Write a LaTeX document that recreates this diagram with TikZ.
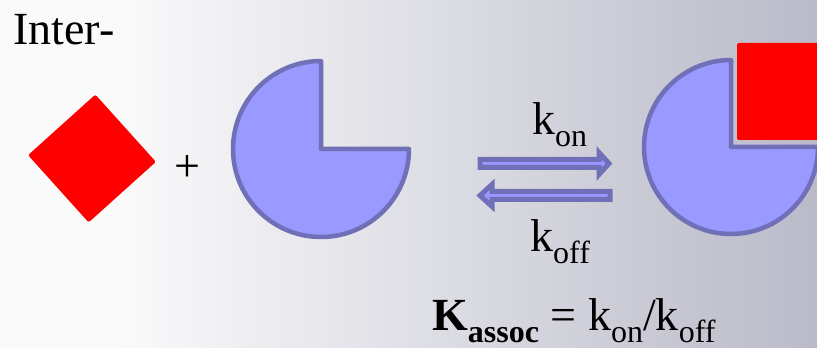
\documentclass[tikz,border=0pt]{standalone}
\usepackage{fontspec}
\setmainfont{Liberation Serif}
\usetikzlibrary{calc}

\definecolor{bgLeft}{RGB}{250,250,251}
\definecolor{bgMid}{RGB}{237,237,242}
\definecolor{bgRight}{RGB}{186,186,201}
\definecolor{pocketFill}{RGB}{153,153,255}
\definecolor{pocketLine}{RGB}{112,112,184}

\newcommand{\subtxt}[1]{\raisebox{-0.26em}{\fontsize{32}{32}\selectfont #1}}

\begin{document}
\begin{tikzpicture}[
		x=1pt, y=1pt,
		font=\fontsize{46}{50}\selectfont,
		% Styles
		pocketShape/.style={draw=pocketLine, fill=pocketFill, line width=4.5pt, line join=round},
		ligandShape/.style={fill=red, rounded corners=2pt},
		rateArrow/.style={draw=pocketLine, fill=pocketFill, line width=5pt, line join=miter},
		rateLabel/.style={anchor=base west, inner sep=0pt}
		]
		
		% =========================================================
		% 1. BACKGROUND
		% =========================================================
		\useasboundingbox (0,0) rectangle (817,348);
		\clip (0,0) rectangle (817,348);
		\fill[bgLeft] (0,0) rectangle (817,348);
		\shade[left color=bgLeft, middle color=bgMid, right color=bgRight] (120,0) rectangle (817,348);
		
		\node[rateLabel] (inter) at (13,303) {Inter-};
		
		% =========================================================
		% 2. LIGAND + ENZYME
		% =========================================================
		\coordinate (ligand) at (92,189.5);
		\fill[ligandShape, rotate around={-3:(ligand)}] ($(ligand)+(0,64)$) -- ($(ligand)+(-64,0)$) -- ($(ligand)+(0,-64)$) -- ($(ligand)+(64,0)$) -- cycle;
		
		\node[anchor=base, inner sep=0pt] (plus) at (187,166.5) {+};
		
		\coordinate (enzyme) at (321,199);
		\draw[pocketShape] (enzyme) -- ++(0,88) arc[start angle=90, end angle=360, radius=88] -- cycle;
		
		% =========================================================
		% 3. EQUILIBRIUM ARROWS
		% =========================================================
		\coordinate (onTail) at (480,184.5);
		\coordinate (onTip) at (609,184.5);
		\draw[rateArrow] ($(onTail)+(0,4)$) -- ($(onTip)+(-10,4)$) -- ($(onTip)+(-10,11)$) -- (onTip)
			-- ($(onTip)+(-10,-11)$) -- ($(onTip)+(-10,-4)$) -- ($(onTail)+(0,-4)$) -- cycle;
		
		\coordinate (offTail) at (610,152.5);
		\coordinate (offTip) at (480,152.5);
		\draw[rateArrow] ($(offTail)+(0,4)$) -- ($(offTip)+(12,4)$) -- ($(offTip)+(12,11)$) -- (offTip)
			-- ($(offTip)+(12,-11)$) -- ($(offTip)+(12,-4)$) -- ($(offTail)+(0,-4)$) -- cycle;
		
		\node[rateLabel] (kon) at (532,213) {k\subtxt{on}};
		\node[rateLabel] (koff) at (530,96) {k\subtxt{off}};
		
		% =========================================================
		% 4. COMPLEX
		% =========================================================
		\coordinate (complex) at (731,201);
		\draw[pocketShape] (complex) -- ++(0,87) arc[start angle=90, end angle=360, radius=87] -- cycle;
		\fill[ligandShape] (737,208) rectangle (840,305);
		
		% =========================================================
		% 5. ASSOCIATION CONSTANT
		% =========================================================
		\node[rateLabel] (kassoc) at (432,17) {\textbf{K}\subtxt{\textbf{assoc}} = k\subtxt{on}/k\subtxt{off}};
		
	\end{tikzpicture}
\end{document}
